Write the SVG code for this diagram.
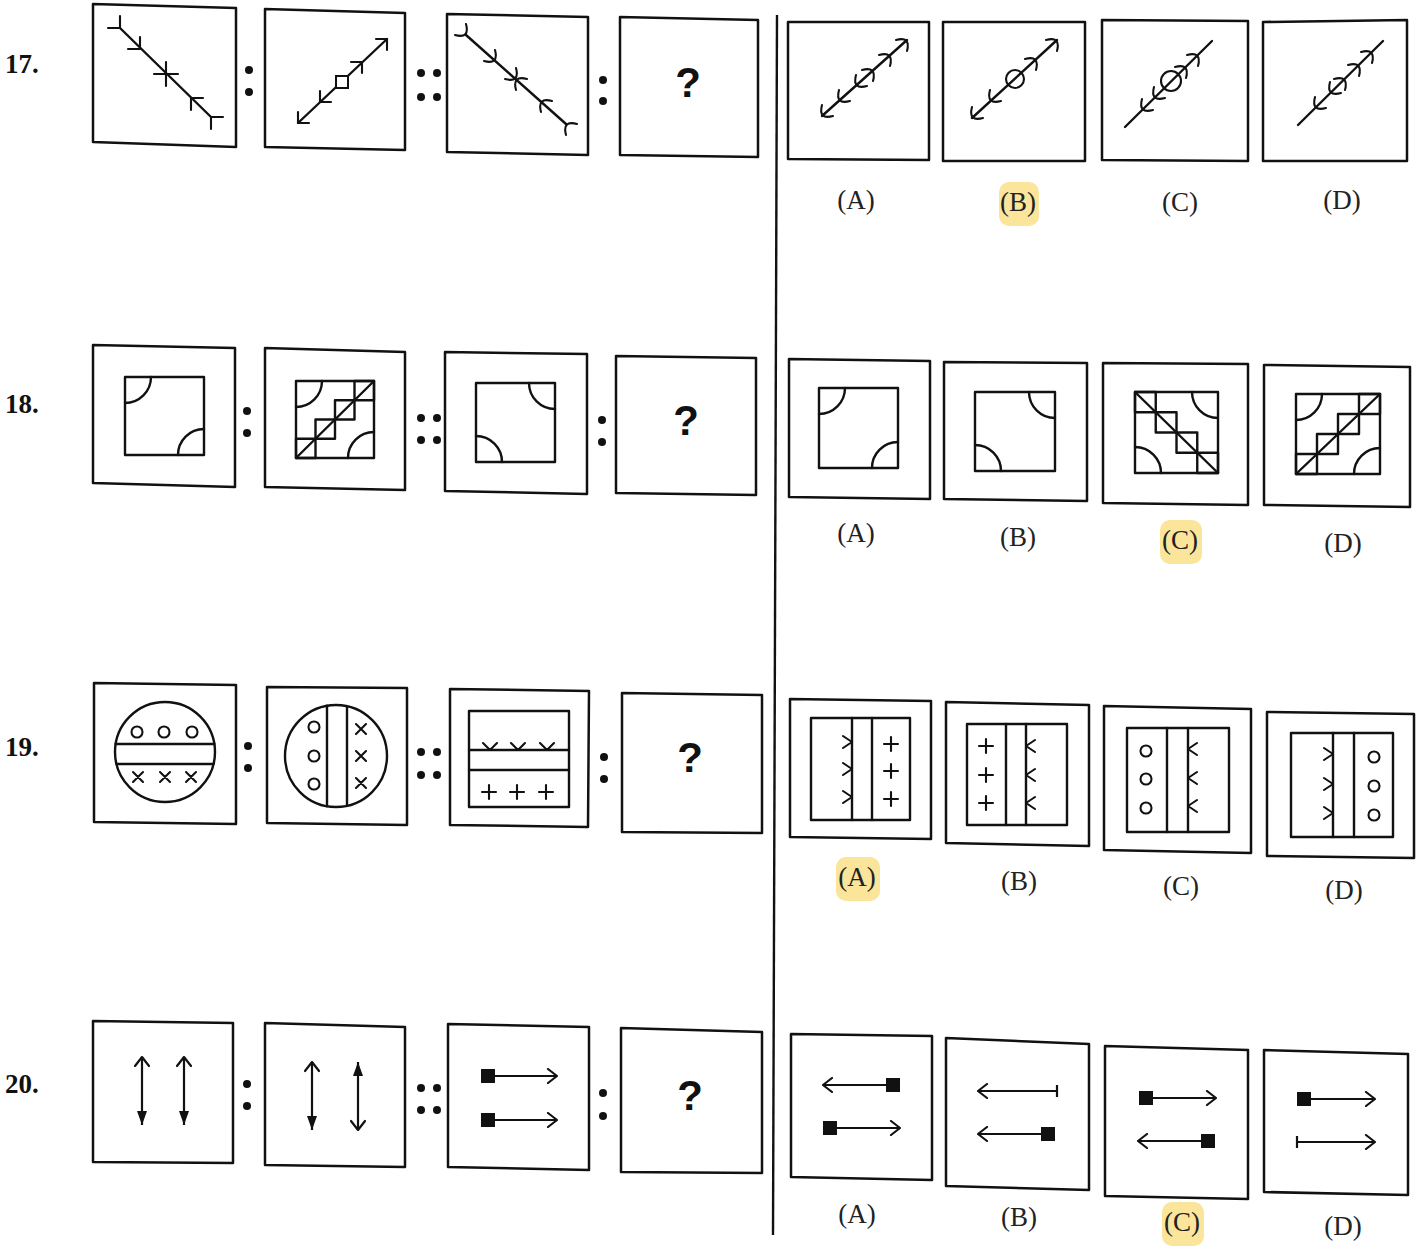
<svg xmlns="http://www.w3.org/2000/svg" width="1425" height="1247" viewBox="0 0 1425 1247">
<style>
.box{fill:none;stroke:#111;stroke-width:2.5;stroke-linejoin:round}
.ln{fill:none;stroke:#111;stroke-width:2.4;stroke-linecap:round;stroke-linejoin:round}
.thin{fill:none;stroke:#111;stroke-width:2.1;stroke-linecap:round;stroke-linejoin:round}
.dot{fill:#111}
.sq{fill:#111}
.wf{fill:#fff;stroke:#111;stroke-width:2}
.lbl{font-family:"Liberation Serif","Times New Roman",serif;font-size:27px;fill:#222;text-anchor:middle}
.num{font-family:"Liberation Serif","Times New Roman",serif;font-weight:bold;font-size:27px;fill:#111}
.q{font-family:"Liberation Sans",Arial,sans-serif;font-weight:bold;font-size:42px;fill:#111;text-anchor:middle}
.hl{fill:#fbe59a}
.arr{fill:none;stroke:#111;stroke-width:2.2}
</style>
<defs>
<marker id="open" viewBox="0 0 12 16" refX="11" refY="8" markerWidth="12" markerHeight="16" markerUnits="userSpaceOnUse" orient="auto-start-reverse">
<path d="M2,1 L11,8 L2,15" fill="none" stroke="#111" stroke-width="2.2" stroke-linecap="round" stroke-linejoin="round"/>
</marker>
<marker id="filled" viewBox="0 0 14 10" refX="14" refY="5" markerWidth="14" markerHeight="10" markerUnits="userSpaceOnUse" orient="auto-start-reverse">
<path d="M0,0 L14,5 L0,10 Z" fill="#111"/>
</marker>
</defs>
<rect width="1425" height="1247" fill="#fff"/>

<g id="divider"><path d="M777,15 L773,1235" stroke="#111" stroke-width="2.4" fill="none"/></g>

<g id="numbers">
<text class="num" x="5" y="73">17.</text>
<text class="num" x="5" y="413">18.</text>
<text class="num" x="5" y="756">19.</text>
<text class="num" x="5" y="1093">20.</text>
</g>

<g id="highlights">
<rect class="hl" x="999" y="182" width="40" height="44" rx="10"/>
<rect class="hl" x="1160" y="520" width="42" height="44" rx="10"/>
<rect class="hl" x="836" y="857" width="44" height="44" rx="10"/>
<rect class="hl" x="1162" y="1202" width="42" height="44" rx="10"/>
</g>

<g id="separators">
<circle class="dot" cx="249" cy="70" r="4"/><circle class="dot" cx="249" cy="92" r="4"/>
<circle class="dot" cx="421" cy="73" r="4"/><circle class="dot" cx="437" cy="73" r="4"/><circle class="dot" cx="421" cy="97" r="4"/><circle class="dot" cx="437" cy="97" r="4"/>
<circle class="dot" cx="603" cy="80" r="4"/><circle class="dot" cx="603" cy="101" r="4"/>
<circle class="dot" cx="247" cy="411" r="4"/><circle class="dot" cx="247" cy="433" r="4"/>
<circle class="dot" cx="421" cy="418" r="4"/><circle class="dot" cx="437" cy="418" r="4"/><circle class="dot" cx="421" cy="440" r="4"/><circle class="dot" cx="437" cy="440" r="4"/>
<circle class="dot" cx="602" cy="420" r="4"/><circle class="dot" cx="602" cy="442" r="4"/>
<circle class="dot" cx="248" cy="746" r="4"/><circle class="dot" cx="248" cy="768" r="4"/>
<circle class="dot" cx="421" cy="752" r="4"/><circle class="dot" cx="437" cy="752" r="4"/><circle class="dot" cx="421" cy="775" r="4"/><circle class="dot" cx="437" cy="775" r="4"/>
<circle class="dot" cx="604" cy="757" r="4"/><circle class="dot" cx="604" cy="779" r="4"/>
<circle class="dot" cx="247" cy="1084" r="4"/><circle class="dot" cx="247" cy="1106" r="4"/>
<circle class="dot" cx="421" cy="1088" r="4"/><circle class="dot" cx="437" cy="1088" r="4"/><circle class="dot" cx="421" cy="1110" r="4"/><circle class="dot" cx="437" cy="1110" r="4"/>
<circle class="dot" cx="603" cy="1093" r="4"/><circle class="dot" cx="603" cy="1116" r="4"/>
</g>

<!-- ROW 17 -->
<g id="q17-f1">
<polygon class="box" points="93,4 236,8 236,147 93,142"/>
<path class="ln" d="M120,28 L211,117"/>
<path class="thin" d="M108,28 L120,28 L120,16 M128,49 L140,49 L140,37 M154,74 L178,74 M166,62 L166,86 M203,98 L191,98 L191,110 M223,117 L211,117 L211,129"/>
</g>
<g id="q17-f2">
<polygon class="box" points="265,9 405,13 405,150 265,147"/>
<path class="ln" d="M298,123 L387,39"/>
<path class="thin" d="M376,39 L387,39 L387,50 M351,62 L362,62 L362,73 M309,123 L298,123 L298,112 M331,102 L320,102 L320,91"/>
<rect class="wf" x="336" y="76" width="12" height="12"/>
</g>
<g id="q17-f3">
<polygon class="box" points="447,14 588,17 588,155 447,152"/>
<path class="ln" d="M466,35 L566,124"/>
<path class="thin" d="M455,35 Q470,39 466,24 M484,61 Q499,65 495,50 M505,79 Q520,83 516,68 M527,79 Q512,75 516,90 M552,101 Q537,97 541,112 M577,124 Q562,120 566,135"/>
</g>
<g id="q17-f4">
<polygon class="box" points="620,17 758,20 758,157 620,155"/>
<text class="q" x="688" y="97">?</text>
</g>
<g id="o17-a">
<polygon class="box" points="788,22 929,22 929,160 788,159"/>
<path class="ln" d="M822,116 L907,40"/>
<path class="thin" d="M833,116 Q818,120 822,105 M850,101 Q835,105 839,90 M867,86 Q852,90 856,75 M862,70 Q877,66 873,81 M879,55 Q894,51 890,66 M896,40 Q911,36 907,51"/>
<text class="lbl" x="856" y="209">(A)</text>
</g>
<g id="o17-b">
<polygon class="box" points="943,22 1085,22 1085,161 943,161"/>
<path class="ln" d="M972,118 L1057,40"/>
<path class="thin" d="M983,118 Q968,122 972,107 M1001,101 Q986,105 990,90 M1025,59 Q1040,55 1036,70 M1046,40 Q1061,36 1057,51"/>
<circle cx="1015" cy="79" r="9" class="thin"/>
<text class="lbl" x="1018" y="211">(B)</text>
</g>
<g id="o17-c">
<polygon class="box" points="1102,20 1248,21 1248,161 1102,160"/>
<path class="ln" d="M1125,127 L1212,41"/>
<path class="thin" d="M1153,110 Q1138,114 1142,99 M1165,98 Q1150,102 1154,87 M1175,67 Q1190,63 1186,78 M1187,55 Q1202,51 1198,66"/>
<circle cx="1171" cy="81" r="10" class="thin"/>
<text class="lbl" x="1180" y="211">(C)</text>
</g>
<g id="o17-d">
<polygon class="box" points="1263,22 1407,20 1407,161 1263,161"/>
<path class="ln" d="M1298,125 L1383,41"/>
<path class="thin" d="M1326,108 Q1311,112 1315,97 M1341,93 Q1326,97 1330,82 M1334,79 Q1349,75 1345,90 M1348,65 Q1363,61 1359,76 M1361,52 Q1376,48 1372,63"/>
<text class="lbl" x="1342" y="209">(D)</text>
</g>

<!-- ROW 18 -->
<g id="q18-f1">
<polygon class="box" points="93,345 235,348 235,487 93,483"/>
<rect class="ln" x="125" y="377" width="79" height="78"/>
<path class="ln" d="M151,377 A26,26 0 0 1 125,403 M178,455 A26,26 0 0 1 204,429"/>
</g>
<g id="q18-f2">
<polygon class="box" points="265,348 405,352 405,490 265,487"/>
<rect class="ln" x="296" y="381" width="78" height="77"/>
<path class="ln" d="M322,381 A26,26 0 0 1 296,407 M348,458 A26,26 0 0 1 374,432"/>
<rect class="ln" x="296" y="438.75" width="19.5" height="19.25"/>
<rect class="ln" x="315.5" y="419.5" width="19.5" height="19.25"/>
<rect class="ln" x="335" y="400.25" width="19.5" height="19.25"/>
<rect class="ln" x="354.5" y="381" width="19.5" height="19.25"/>
<path class="ln" d="M296,458 L374,381"/>
</g>
<g id="q18-f3">
<polygon class="box" points="445,352 587,354 587,494 445,491"/>
<rect class="ln" x="476" y="383" width="79" height="79"/>
<path class="ln" d="M529,383 A26,26 0 0 0 555,409 M502,462 A26,26 0 0 0 476,436"/>
</g>
<g id="q18-f4">
<polygon class="box" points="616,356 756,358 756,495 616,493"/>
<text class="q" x="686" y="435">?</text>
</g>
<g id="o18-a">
<polygon class="box" points="789,359 930,361 930,499 789,497"/>
<rect class="ln" x="819" y="388" width="79" height="80"/>
<path class="ln" d="M845,388 A26,26 0 0 1 819,414 M872,468 A26,26 0 0 1 898,442"/>
<text class="lbl" x="856" y="542">(A)</text>
</g>
<g id="o18-b">
<polygon class="box" points="944,362 1087,363 1087,501 944,499"/>
<rect class="ln" x="975" y="392" width="80" height="79"/>
<path class="ln" d="M1029,392 A26,26 0 0 0 1055,418 M1001,471 A26,26 0 0 0 975,445"/>
<text class="lbl" x="1018" y="546">(B)</text>
</g>
<g id="o18-c">
<polygon class="box" points="1103,363 1248,364 1248,505 1103,503"/>
<rect class="ln" x="1135" y="392" width="83" height="81"/>
<path class="ln" d="M1192,392 A26,26 0 0 0 1218,418 M1161,473 A26,26 0 0 0 1135,447"/>
<rect class="ln" x="1135" y="392" width="20.75" height="20.25"/>
<rect class="ln" x="1155.75" y="412.25" width="20.75" height="20.25"/>
<rect class="ln" x="1176.5" y="432.5" width="20.75" height="20.25"/>
<rect class="ln" x="1197.25" y="452.75" width="20.75" height="20.25"/>
<path class="ln" d="M1135,392 L1218,473"/>
<text class="lbl" x="1180" y="549">(C)</text>
</g>
<g id="o18-d">
<polygon class="box" points="1264,365 1410,367 1410,507 1264,505"/>
<rect class="ln" x="1296" y="394" width="84" height="80"/>
<path class="ln" d="M1322,394 A26,26 0 0 1 1296,420 M1354,474 A26,26 0 0 1 1380,448"/>
<rect class="ln" x="1296" y="454" width="21" height="20"/>
<rect class="ln" x="1317" y="434" width="21" height="20"/>
<rect class="ln" x="1338" y="414" width="21" height="20"/>
<rect class="ln" x="1359" y="394" width="21" height="20"/>
<path class="ln" d="M1296,474 L1380,394"/>
<text class="lbl" x="1343" y="552">(D)</text>
</g>

<!-- ROW 19 -->
<g id="q19-f1">
<polygon class="box" points="94,683 236,685 236,824 94,822"/>
<circle class="ln" cx="165" cy="752" r="50"/>
<path class="ln" d="M115.6,744 L214.4,744 M116.5,764 L213.5,764"/>
<circle class="thin" cx="137" cy="732" r="5.5"/><circle class="thin" cx="164" cy="732" r="5.5"/><circle class="thin" cx="192" cy="732" r="5.5"/>
<path class="thin" d="M133,772 L143,782 M143,772 L133,782 M160,772 L170,782 M170,772 L160,782 M186,772 L196,782 M196,772 L186,782"/>
</g>
<g id="q19-f2">
<polygon class="box" points="267,687 407,688 407,825 267,823"/>
<circle class="ln" cx="336" cy="756" r="51"/>
<path class="ln" d="M327,705.8 L327,806.2 M347,706.2 L347,805.8"/>
<circle class="thin" cx="314" cy="727" r="5.5"/><circle class="thin" cx="314" cy="756" r="5.5"/><circle class="thin" cx="314" cy="784" r="5.5"/>
<path class="thin" d="M356,724 L366,734 M366,724 L356,734 M356,751 L366,761 M366,751 L356,761 M356,778 L366,788 M366,778 L356,788"/>
</g>
<g id="q19-f3">
<polygon class="box" points="450,689 589,691 588,827 450,825"/>
<rect class="ln" x="469" y="711" width="100" height="96"/>
<path class="ln" d="M469,750 L569,750 M469,770 L569,770"/>
<path class="thin" d="M483,743 L490,750 L497,743 M511,743 L518,750 L525,743 M540,743 L547,750 L554,743"/>
<path class="thin" d="M482,792 L496,792 M489,785 L489,799 M510,792 L524,792 M517,785 L517,799 M539,792 L553,792 M546,785 L546,799"/>
</g>
<g id="q19-f4">
<polygon class="box" points="622,693 762,695 762,833 622,832"/>
<text class="q" x="690" y="772">?</text>
</g>
<g id="o19-a">
<polygon class="box" points="790,699 931,701 931,839 790,837"/>
<rect class="ln" x="811" y="718" width="99" height="102"/>
<path class="ln" d="M852,718 L852,820 M872,718 L872,820"/>
<path class="thin" d="M843,736 L852,742 L843,748 M843,763 L852,769 L843,775 M843,791 L852,797 L843,803"/>
<path class="thin" d="M884,744 L898,744 M891,737 L891,751 M884,771 L898,771 M891,764 L891,778 M884,799 L898,799 M891,792 L891,806"/>
<text class="lbl" x="857" y="886">(A)</text>
</g>
<g id="o19-b">
<polygon class="box" points="946,702 1089,705 1089,846 946,843"/>
<rect class="ln" x="967" y="724" width="100" height="101"/>
<path class="ln" d="M1006,724 L1006,825 M1026,724 L1026,825"/>
<path class="thin" d="M979,746 L993,746 M986,739 L986,753 M979,775 L993,775 M986,768 L986,782 M979,803 L993,803 M986,796 L986,810"/>
<path class="thin" d="M1035,740 L1026,746 L1035,752 M1035,769 L1026,775 L1035,781 M1035,797 L1026,803 L1035,809"/>
<text class="lbl" x="1019" y="890">(B)</text>
</g>
<g id="o19-c">
<polygon class="box" points="1104,706 1251,709 1251,853 1104,850"/>
<rect class="ln" x="1127" y="728" width="102" height="104"/>
<path class="ln" d="M1167,728 L1167,832 M1188,728 L1188,832"/>
<circle class="thin" cx="1146" cy="751" r="5.5"/><circle class="thin" cx="1146" cy="779" r="5.5"/><circle class="thin" cx="1146" cy="808" r="5.5"/>
<path class="thin" d="M1197,743 L1188,749 L1197,755 M1197,772 L1188,778 L1197,784 M1197,800 L1188,806 L1197,812"/>
<text class="lbl" x="1181" y="895">(C)</text>
</g>
<g id="o19-d">
<polygon class="box" points="1267,712 1414,714 1414,858 1267,856"/>
<rect class="ln" x="1291" y="733" width="102" height="104"/>
<path class="ln" d="M1333,733 L1333,837 M1354,733 L1354,837"/>
<path class="thin" d="M1324,748 L1333,754 L1324,760 M1324,778 L1333,784 L1324,790 M1324,807 L1333,813 L1324,819"/>
<circle class="thin" cx="1374" cy="757" r="5.5"/><circle class="thin" cx="1374" cy="786" r="5.5"/><circle class="thin" cx="1374" cy="815" r="5.5"/>
<text class="lbl" x="1344" y="899">(D)</text>
</g>

<!-- ROW 20 -->
<g id="q20-f1">
<polygon class="box" points="93,1021 233,1023 233,1163 93,1162"/>
<path class="arr" d="M142,1057 L142,1125" marker-start="url(#open)" marker-end="url(#filled)"/>
<path class="arr" d="M184,1057 L184,1125" marker-start="url(#open)" marker-end="url(#filled)"/>
</g>
<g id="q20-f2">
<polygon class="box" points="265,1023 405,1027 405,1167 265,1165"/>
<path class="arr" d="M312,1062 L312,1130" marker-start="url(#open)" marker-end="url(#filled)"/>
<path class="arr" d="M358,1062 L358,1130" marker-start="url(#filled)" marker-end="url(#open)"/>
</g>
<g id="q20-f3">
<polygon class="box" points="448,1024 589,1027 589,1170 448,1167"/>
<rect class="sq" x="481" y="1069" width="14" height="14"/>
<path class="arr" d="M495,1076 L557,1076" marker-end="url(#open)"/>
<rect class="sq" x="481" y="1113" width="14" height="14"/>
<path class="arr" d="M495,1120 L557,1120" marker-end="url(#open)"/>
</g>
<g id="q20-f4">
<polygon class="box" points="621,1028 762,1032 762,1173 621,1172"/>
<text class="q" x="690" y="1110">?</text>
</g>
<g id="o20-a">
<polygon class="box" points="791,1034 932,1036 932,1180 791,1177"/>
<rect class="sq" x="886" y="1078" width="14" height="14"/>
<path class="arr" d="M886,1085 L823,1085" marker-end="url(#open)"/>
<rect class="sq" x="823" y="1121" width="14" height="14"/>
<path class="arr" d="M837,1128 L900,1128" marker-end="url(#open)"/>
<text class="lbl" x="857" y="1223">(A)</text>
</g>
<g id="o20-b">
<polygon class="box" points="946,1038 1089,1044 1089,1190 946,1186"/>
<path class="arr" d="M1057,1091 L978,1091" marker-end="url(#open)"/>
<path class="arr" d="M1057,1085 L1057,1097"/>
<rect class="sq" x="1041" y="1127" width="14" height="14"/>
<path class="arr" d="M1041,1134 L978,1134" marker-end="url(#open)"/>
<text class="lbl" x="1019" y="1226">(B)</text>
</g>
<g id="o20-c">
<polygon class="box" points="1105,1046 1248,1050 1248,1199 1105,1196"/>
<rect class="sq" x="1139" y="1091" width="14" height="14"/>
<path class="arr" d="M1153,1098 L1216,1098" marker-end="url(#open)"/>
<rect class="sq" x="1201" y="1134" width="14" height="14"/>
<path class="arr" d="M1201,1141 L1138,1141" marker-end="url(#open)"/>
<text class="lbl" x="1182" y="1231">(C)</text>
</g>
<g id="o20-d">
<polygon class="box" points="1264,1050 1408,1054 1408,1195 1264,1192"/>
<rect class="sq" x="1297" y="1092" width="14" height="14"/>
<path class="arr" d="M1311,1099 L1375,1099" marker-end="url(#open)"/>
<path class="arr" d="M1297,1136 L1297,1148"/>
<path class="arr" d="M1297,1142 L1375,1142" marker-end="url(#open)"/>
<text class="lbl" x="1343" y="1235">(D)</text>
</g>

<g id="connectors"></g>
</svg>
